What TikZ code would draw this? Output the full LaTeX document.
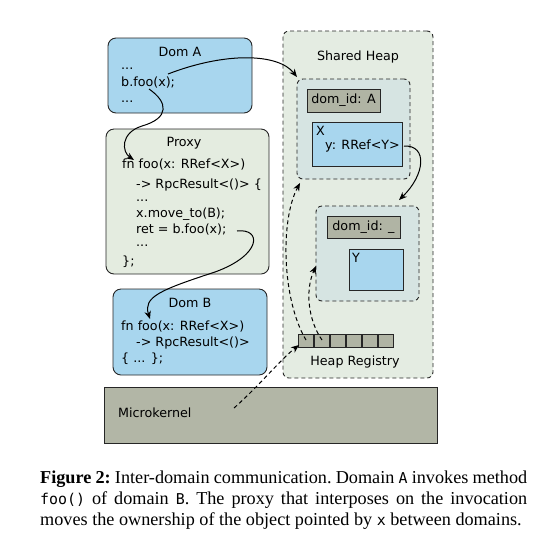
\documentclass[tikz,border=0pt]{standalone}
\usepackage{fontspec}
\setmainfont{Liberation Serif}
\newfontfamily\dvsans{DejaVu Sans}
\newfontfamily\capmono{DejaVu Sans Mono}[Scale=0.82]
\usetikzlibrary{arrows.meta}
\definecolor{domblue}{RGB}{168,214,238}
\definecolor{proxygreen}{RGB}{228,236,224}
\definecolor{heapgreen}{RGB}{228,236,226}
\definecolor{innerfill}{RGB}{214,228,226}
\definecolor{idgray}{RGB}{176,180,164}
\definecolor{kernelgray}{RGB}{178,182,166}
\tikzset{
  solidbox/.style={draw=black!85, line width=0.9pt, rounded corners=8pt, inner sep=0pt},
  sqbox/.style={draw=black!85, line width=0.9pt, inner sep=0pt},
  dashbox/.style={draw=black!85, line width=0.9pt, dash pattern=on 4pt off 3pt, rounded corners=6pt, inner sep=0pt},
  cell/.style={sqbox, fill=idgray, minimum width=15pt, minimum height=13pt},
  txt/.style={font=\dvsans\fontsize{12.7}{14}\selectfont, anchor=base west, inner sep=0pt},
  ctxt/.style={font=\dvsans\fontsize{12.7}{14}\selectfont, inner sep=0pt},
  arr/.style={-{Stealth[length=8pt,width=6.5pt]}, line width=1pt},
  darr/.style={arr, dash pattern=on 4pt off 3pt}
}
\begin{document}
\begin{tikzpicture}[x=1pt,y=-1pt]
\useasboundingbox (0,0) rectangle (543,542);
% boxes
\node[solidbox, fill=domblue, minimum width=144pt, minimum height=75pt] (domA) at (180,75.5) {};
\node[solidbox, fill=proxygreen, minimum width=163pt, minimum height=145pt] (proxy) at (187.5,201.5) {};
\node[solidbox, fill=domblue, minimum width=154pt, minimum height=86pt] (domB) at (190,332) {};
\node[dashbox, fill=heapgreen, minimum width=150pt, minimum height=347pt] (heap) at (358,204.5) {};
\node[dashbox, fill=innerfill, minimum width=113pt, minimum height=100pt] (inner1) at (353.5,129) {};
\node[sqbox, fill=idgray, minimum width=73pt, minimum height=23pt] (idA) at (343.5,100.5) {};
\node[sqbox, fill=domblue, minimum width=90pt, minimum height=44pt] (xbox) at (357,144) {};
\node[dashbox, fill=innerfill, minimum width=103pt, minimum height=95pt] (inner2) at (367.5,253.5) {};
\node[sqbox, fill=idgray, minimum width=73pt, minimum height=22pt] (idB) at (363.5,227) {};
\node[sqbox, fill=domblue, minimum width=54pt, minimum height=41pt] (ybox) at (376,269.5) {};
\foreach \i in {0,...,5} {
  \node[cell] (c\i) at ({305.5+16*\i},340.5) {};
}
\node[sqbox, fill=kernelgray, minimum width=333pt, minimum height=56pt] (kernel) at (270.5,415) {};
% texts
\node[ctxt] (tA) at (180,52) {Dom A};
\node[txt] (a1) at (121,69) {...};
\node[txt] (a2) at (121,86) {b.foo(x);};
\node[txt] (a3) at (121,102) {...};
\node[ctxt] (tP) at (184,143) {Proxy};
\node[txt] (p1) at (122,168) {fn foo(x: RRef<X>)};
\node[txt] (p2) at (136,188) {-> RpcResult<()> \{};
\node[txt] (p3) at (136,201) {...};
\node[txt] (p4) at (136,217) {x.move\_to(B);};
\node[txt] (p5) at (136,233) {ret = b.foo(x);};
\node[txt] (p6) at (136,246) {...};
\node[txt] (p7) at (122,265) {\};};
\node[ctxt] (tB) at (190,303) {Dom B};
\node[txt] (b1) at (121,330) {fn foo(x: RRef<X>)};
\node[txt] (b2) at (136,346) {-> RpcResult<()>};
\node[txt] (b3) at (121,362) {\{ ... \};};
\node[ctxt] (tH) at (358,57) {Shared Heap};
\node[ctxt] (tidA) at (343.5,100.5) {dom\_id: A};
\node[txt] (tx) at (316,135) {X};
\node[txt] (ty) at (325,149) {y: RRef<Y>};
\node[ctxt] (tidB) at (363.5,227) {dom\_id: \_};
\node[txt] (tY) at (352,262) {Y};
\node[ctxt] (tR) at (355,362) {Heap Registry};
\node[txt] (tK) at (118,417) {Microkernel};
% arrow endpoints
\coordinate (s1) at (168,74);
\coordinate (e1) at (297,77);
\coordinate (s2) at (149,89);
\coordinate (e2) at (134,160);
\coordinate (s3) at (237,231);
\coordinate (e3) at (150,319);
\coordinate (s4) at (404,146);
\coordinate (e4) at (399,200);
\coordinate (s5) at (234,408);
\coordinate (e5) at (299,345);
\coordinate (s6) at (306,340);
\coordinate (e6) at (300,183);
\coordinate (s7) at (322,340);
\coordinate (e7) at (316,266);
% arrows
\draw[arr] (s1) .. controls (225,52) and (278,53) .. (e1);
\draw[arr] (s2) .. controls (168,102) and (170,118) .. (142,126) .. controls (120,133) and (122,152) .. (e2);
\draw[arr] (s3) .. controls (262,228) and (262,255) .. (215,272) .. controls (160,290) and (143,297) .. (e3);
\draw[arr] (s4) .. controls (428,145) and (425,175) .. (e4);
\draw[darr] (s5) .. controls (260,385) and (280,360) .. (e5);
\draw[darr] (s6) .. controls (282,300) and (280,220) .. (e6);
\draw[darr] (s7) .. controls (308,320) and (305,290) .. (e7);
% caption
\node[anchor=north west, inner sep=0pt, text width=487pt, align=justify,
      font=\fontsize{18.2}{21}\selectfont] (cap) at (40,471)
  {\hyphenpenalty=10000 \frenchspacing \textbf{Figure 2:} Inter-domain communication. Domain {\capmono A} invokes method {\capmono foo()} of domain {\capmono B}. The proxy that interposes on the invocation moves the ownership of the object pointed by {\capmono x} between domains.};
\end{tikzpicture}
\end{document}
